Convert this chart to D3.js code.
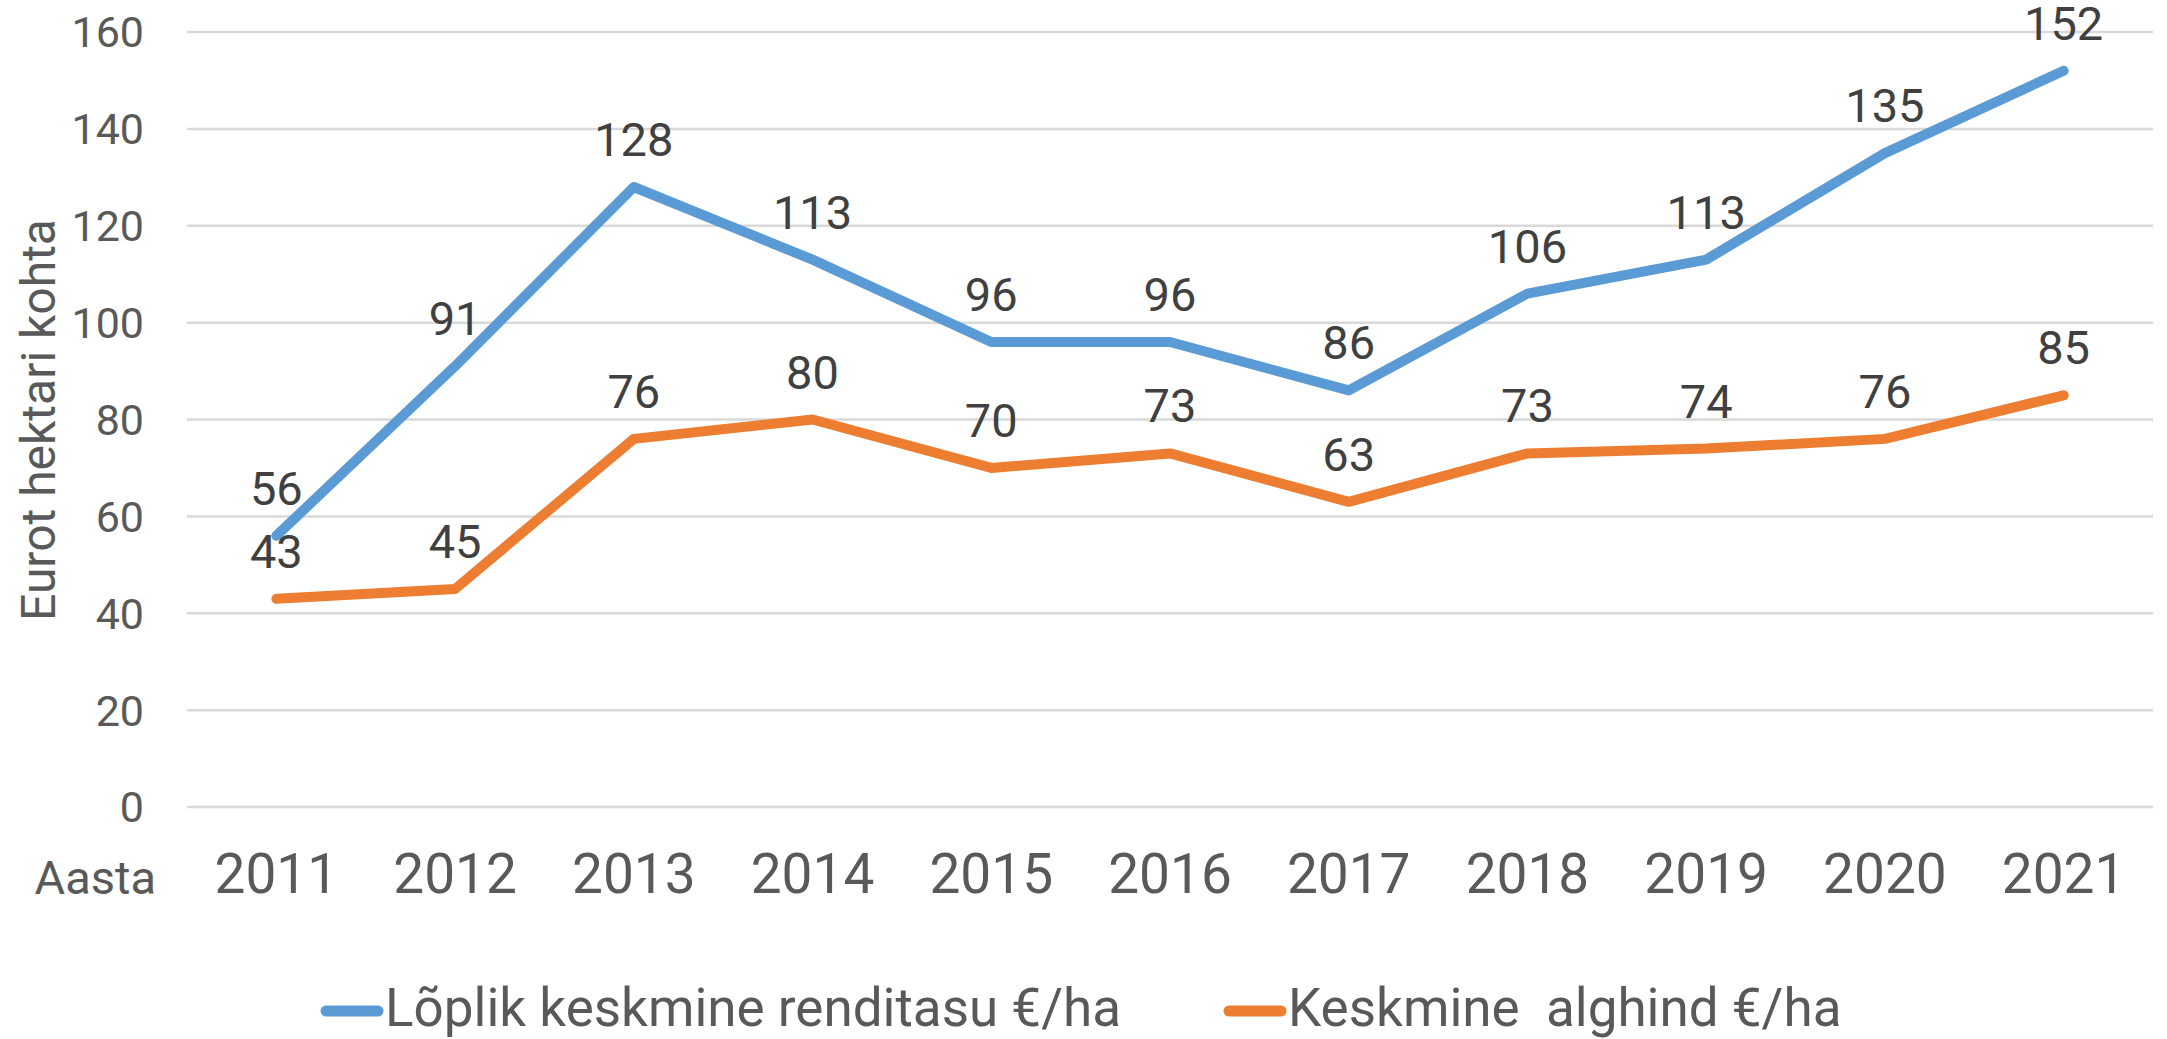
<!DOCTYPE html>
<html>
<head>
<meta charset="utf-8">
<script src="https://cdn.jsdelivr.net/npm/d3@7"></script>
<style>
  body { margin: 0; background: #fff; }
  svg { display: block; font-family: Roboto, "Noto Sans", sans-serif; }
</style>
</head>
<body>
<script>
var years = ["2011", "2012", "2013", "2014", "2015", "2016", "2017", "2018", "2019", "2020", "2021"];
var rentValues = [56, 91, 128, 113, 96, 96, 86, 106, 113, 135, 152];
var priceValues = [43, 45, 76, 80, 70, 73, 63, 73, 74, 76, 85];
var yTicks = [0, 20, 40, 60, 80, 100, 120, 140, 160];
var seriesNames = ["Lõplik keskmine renditasu €/ha", "Keskmine  alghind €/ha"];

var series = [
  { name: seriesNames[0], values: rentValues, color: "#5b9bd5" },
  { name: seriesNames[1], values: priceValues, color: "#ed7d31" }
];

var svg = d3.select("body").append("svg")
  .attr("width", 2167)
  .attr("height", 1039);

var plotLeft = 187, plotRight = 2153, plotTop = 32, plotBottom = 807;

var x = d3.scaleBand().domain(years).range([plotLeft, plotRight]);
var y = d3.scaleLinear().domain([0, 160]).range([plotBottom, plotTop]);
var cx = function (d) { return x(d) + x.bandwidth() / 2; };

// gridlines
svg.append("g")
  .selectAll("line")
  .data(yTicks)
  .enter().append("line")
  .attr("x1", plotLeft)
  .attr("x2", plotRight)
  .attr("y1", function (d) { return y(d); })
  .attr("y2", function (d) { return y(d); })
  .style("stroke", "#d9d9d9")
  .style("stroke-width", 2.5);

// y tick labels
svg.append("g")
  .selectAll("text")
  .data(yTicks)
  .enter().append("text")
  .attr("x", 144)
  .attr("y", function (d) { return y(d); })
  .attr("dy", "0.36em")
  .style("text-anchor", "end")
  .style("font-size", "43px")
  .style("fill", "#595959")
  .text(function (d) { return d; });

// y axis title
svg.append("text")
  .attr("transform", "translate(55,420) rotate(-90)")
  .style("text-anchor", "middle")
  .style("font-size", "48px")
  .style("fill", "#595959")
  .text("Eurot hektari kohta");

// x tick labels
svg.append("g")
  .selectAll("text")
  .data(years)
  .enter().append("text")
  .attr("x", cx)
  .attr("y", 893)
  .style("text-anchor", "middle")
  .style("font-size", "55px")
  .style("fill", "#595959")
  .text(function (d) { return d; });

svg.append("text")
  .attr("x", 156)
  .attr("y", 894)
  .style("text-anchor", "end")
  .style("font-size", "47px")
  .style("fill", "#595959")
  .text("Aasta");

// lines
var line = d3.line()
  .x(function (d, i) { return cx(years[i]); })
  .y(function (d) { return y(d); });

series.forEach(function (s) {
  svg.append("path")
    .datum(s.values)
    .attr("d", line)
    .style("fill", "none")
    .style("stroke", s.color)
    .style("stroke-width", 10)
    .style("stroke-linecap", "round")
    .style("stroke-linejoin", "round");
});

// data labels
series.forEach(function (s) {
  svg.append("g")
    .selectAll("text")
    .data(s.values)
    .enter().append("text")
    .attr("x", function (d, i) { return cx(years[i]); })
    .attr("y", function (d) { return y(d) - 31; })
    .style("text-anchor", "middle")
    .style("font-size", "47px")
    .style("fill", "#404040")
    .text(function (d) { return d; });
});

// legend
var legendX = [321, 1224];
var legend = svg.append("g")
  .selectAll("g")
  .data(series)
  .enter().append("g")
  .attr("transform", function (d, i) { return "translate(" + legendX[i] + ",1011)"; });

legend.append("line")
  .attr("x1", 5)
  .attr("x2", 57)
  .style("stroke", function (d) { return d.color; })
  .style("stroke-width", 11)
  .style("stroke-linecap", "round");

legend.append("text")
  .attr("x", 64)
  .attr("y", 15)
  .style("font-size", "53px")
  .style("fill", "#595959")
  .style("white-space", "pre")
  .text(function (d) { return d.name; });
</script>
</body>
</html>
